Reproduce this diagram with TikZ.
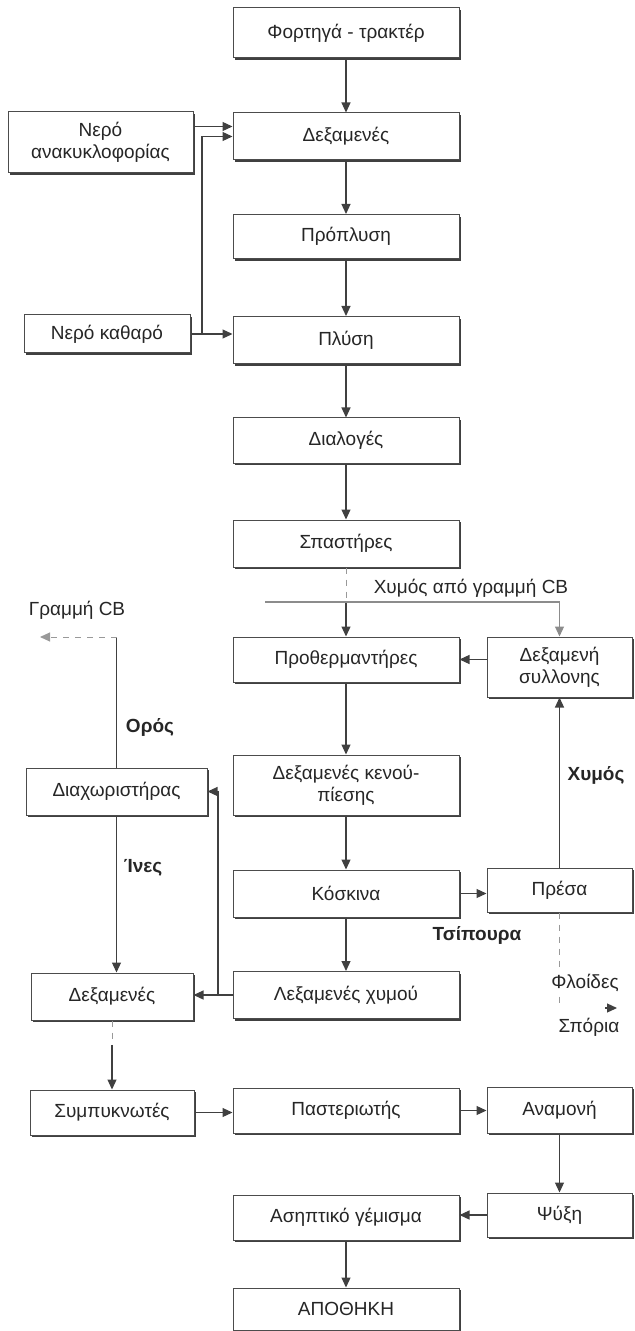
\documentclass[tikz,border=0pt]{standalone}
\usepackage{fontspec}
\setmainfont{Liberation Sans}
\usetikzlibrary{arrows.meta,shadows}

\begin{document}
\begin{tikzpicture}[x=0.5pt,y=-0.5pt,
    box/.style={draw=black!70,line width=0.5pt,fill=white,minimum width=#1,
      minimum height=23.5pt,inner sep=1pt,align=center,text=black!85,
      font=\fontsize{9.5}{11}\selectfont,
      drop shadow={shadow xshift=1.2pt,shadow yshift=-1.2pt,fill=black!75,opacity=1}},
    box/.default=113pt,
    lbl/.style={text=black!85,font=\fontsize{9.5}{11}\selectfont},
    blbl/.style={lbl,font=\fontsize{9.5}{11}\selectfont\bfseries},
    ln/.style={draw=black!75,line width=0.6pt},
    arr/.style={ln,-{Triangle[length=5pt,width=4.5pt]}},
    faint/.style={draw=black!40,line width=0.5pt,dashed}]
  \useasboundingbox (0,0) rectangle (634,1331);

  % main column
  \node[box,minimum height=25pt] (truck) at (346,33) {Φορτηγά - τρακτέρ};
  \node[box] (tanks) at (346,136.5) {Δεξαμενές};
  \node[box,minimum height=22pt] (prewash) at (346,236.5) {Πρόπλυση};
  \node[box] (wash) at (346,340) {Πλύση};
  \node[box,minimum height=22.5pt] (sorting) at (346,440.5) {Διαλογές};
  \node[box] (crushers) at (346,543.5) {Σπαστήρες};
  \node[box,minimum height=22.5pt] (preheat) at (346,659.5) {Προθερμαντήρες};
  \node[box,minimum height=30pt] (vacuum) at (346,785) {Δεξαμενές κενού-\\πίεσης};
  \node[box] (sieves) at (346,893.5) {Κόσκινα};
  \node[box] (juicetank) at (346,995) {Λεξαμενές χυμού};
  \node[box,minimum height=22.5pt] (pasteur) at (346,1110.5) {Παστεριωτής};
  \node[box,minimum height=22.5pt] (aseptic) at (346,1217.5) {Ασηπτικό γέμισμα};
  \node[box,minimum height=21pt] (storage) at (346,1309) {ΑΠΟΘΗΚΗ};

  % right column
  \node[box=72.5pt,minimum height=30pt] (collect) at (559.5,667) {Δεξαμενή\\συλλονης};
  \node[box=72.5pt,minimum height=22pt] (press) at (559.5,890) {Πρέσα};
  \node[box=72.5pt,minimum height=23pt] (holding) at (559.5,1110) {Αναμονή};
  \node[box=72.5pt,minimum height=22pt] (cooling) at (559.5,1215) {Ψύξη};

  % left column
  \node[box=92.5pt,minimum height=30.5pt] (recyc) at (100.5,142.5) {Νερό\\ανακυκλοφορίας};
  \node[box=83pt,minimum height=19pt] (fresh) at (107,334) {Νερό καθαρό};
  \node[box=90.5pt] (separ) at (116.5,791.5) {Διαχωριστήρας};
  \node[box=81pt] (lefttank) at (112,996.5) {Δεξαμενές};
  \node[box=82pt,minimum height=22.5pt] (concen) at (112,1112.5) {Συμπυκνωτές};

  \foreach \a/\b in {truck/tanks,tanks/prewash,prewash/wash,wash/sorting,
      sorting/crushers,preheat/vacuum,vacuum/sieves,sieves/juicetank,
      holding/cooling,aseptic/storage,press/collect}
    \draw[arr] (\a) -- (\b);

  % water
  \coordinate (wj) at (202,334);
  \draw[arr] ([yshift=8pt]recyc.east) -- ([yshift=8pt]recyc.east -| tanks.west);
  \draw[arr] (fresh.east) -- (fresh.east -| wash.west);
  \draw[arr] (wj) |- (tanks.west);

  % juice from line CB
  \coordinate (cbline) at (265,602);
  \draw[faint] (crushers.south) -- (crushers.south |- cbline);
  \draw[arr] (crushers.south |- cbline) -- (preheat.north);
  \draw[arr,draw=black!45] (cbline) -| (collect.north);
  \node[lbl] (cblbl) at (471,588) {Χυμός από γραμμή CB};
  \draw[arr] (collect.west |- preheat.east) -- (preheat.east);

  % press
  \draw[arr] (sieves.east) -- (sieves.east -| press.west);
  \node[blbl] (juicelbl) at (596,775) {Χυμός};
  \node[blbl] (pulplbl) at (477,935) {Τσίπουρα};
  \coordinate (seedtip) at (617,1008);
  \draw[faint] (press.south) -- (press.south |- seedtip);
  \draw[arr] ([xshift=-6pt]seedtip) -- (seedtip);
  \node[lbl,fill=white,inner sep=1pt] (peellbl) at (585,983) {Φλοίδες};
  \node[lbl] (seedlbl) at (589,1027) {Σπόρια};

  % separator
  \coordinate (cbout) at (40,637);
  \draw[ln] (separ.north) -- (separ.north |- cbout);
  \draw[faint,-{Triangle[length=5pt,width=4.5pt]}] (separ.north |- cbout) -- (cbout);
  \node[lbl] (cbname) at (77,610) {Γραμμή CB};
  \node[blbl] (wheylbl) at (150,727) {Ορός};
  \draw[arr] (separ.south) -- (separ.south |- lefttank.north);
  \node[blbl] (fibrelbl) at (143,868) {Ίνες};
  \coordinate (sj) at (218,995);
  \draw[arr] (juicetank.west) -- (juicetank.west -| lefttank.east);
  \draw[arr] (sj) |- (separ.east);

  % bottom
  \coordinate (lj) at (112,1045);
  \draw[faint] (lefttank.south) -- (lj);
  \draw[arr] (lj) -- (concen.north);
  \draw[arr] (concen.east) -- (concen.east -| pasteur.west);
  \draw[arr] (pasteur.east) -- (pasteur.east -| holding.west);
  \draw[arr] (cooling.west) -- (cooling.west -| aseptic.east);
\end{tikzpicture}
\end{document}
